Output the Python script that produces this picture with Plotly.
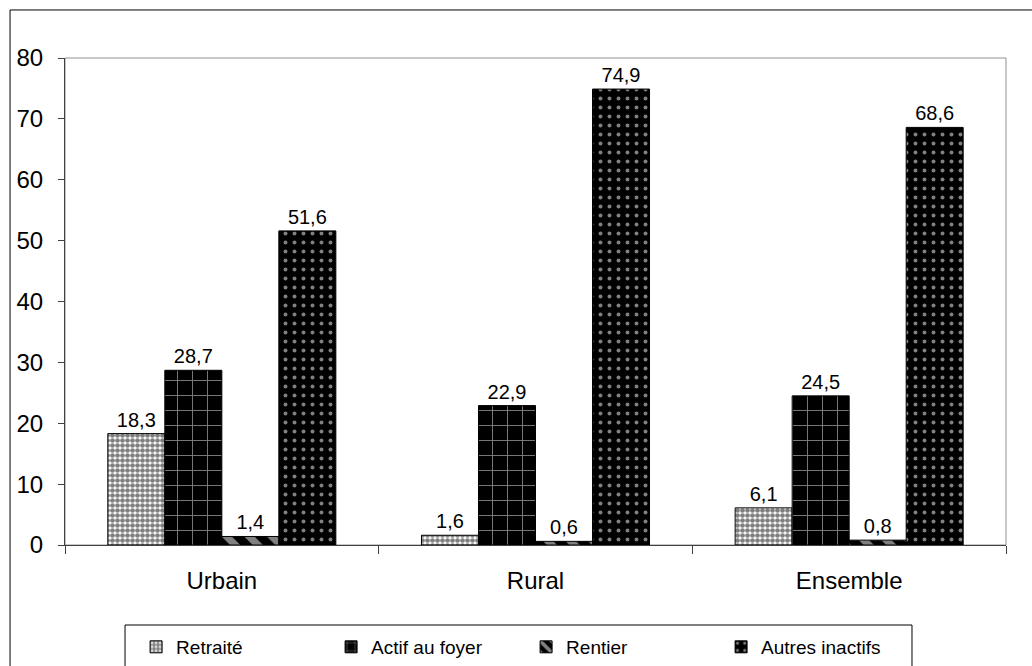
import plotly.graph_objects as go

categories = ['Urbain', 'Rural', 'Ensemble']
series = ['Retraité', 'Actif au foyer', 'Rentier', 'Autres inactifs']
retraite = [18.3, 1.6, 6.1]
actif_foyer = [28.7, 22.9, 24.5]
rentier = [1.4, 0.6, 0.8]
autres_inactifs = [51.6, 74.9, 68.6]
y_ticks = [0, 10, 20, 30, 40, 50, 60, 70, 80]

values = [retraite, actif_foyer, rentier, autres_inactifs]
# motifs noir et blanc (damier, grille, hachures, points)
patterns = [
    dict(shape='.', fgcolor='black', bgcolor='white', size=5, solidity=0.7),
    dict(shape='+', fgcolor='white', bgcolor='black', size=15, solidity=0.12),
    dict(shape='\\', fgcolor='white', bgcolor='black', size=16, solidity=0.45),
    dict(shape='.', fgcolor='white', bgcolor='black', size=9, solidity=0.15),
]

font = 'Liberation Sans, Arial, sans-serif'

fig = go.Figure()
for name, vals, pat in zip(series, values, patterns):
    fig.add_trace(go.Bar(
        name=name, x=categories, y=vals,
        marker=dict(color='black', pattern=pat, line=dict(color='black', width=1)),
        texttemplate='%{y:.1f}', textposition='outside',
        textfont=dict(size=20, color='black', family=font),
        cliponaxis=False,
    ))

fig.update_layout(
    width=1032, height=666,
    margin=dict(l=65, r=26, t=58, b=121, autoexpand=False),
    paper_bgcolor='white', plot_bgcolor='white',
    barmode='group', bargap=0.273, bargroupgap=0,
    separators=', ',
    font=dict(family=font, color='black'),
    showlegend=True,
    legend=dict(orientation='h', x=0.49, xanchor='center', y=-0.2094, yanchor='middle',
                borderwidth=0, font=dict(size=19), bgcolor='rgba(0,0,0,0)',
                entrywidth=150, traceorder='normal'),
)
fig.update_yaxes(range=[0, 80], tickvals=y_ticks, ticks='outside', ticklen=6,
                 tickcolor='#404040', showgrid=False, zeroline=False,
                 showline=True, linecolor='#404040', linewidth=1,
                 tickfont=dict(size=24), ticklabelstandoff=10)
fig.update_xaxes(ticks='outside', tickson='boundaries', ticklen=8, tickcolor='#404040',
                 showgrid=False, showline=True, linecolor='#404040', linewidth=1,
                 tickfont=dict(size=24), ticklabelstandoff=14)

# cadre de la zone de tracé, cadre de la légende et cadre extérieur
fig.add_shape(type='rect', xref='paper', yref='paper', x0=0, x1=1, y0=0, y1=1,
              line=dict(color='#909090', width=1), layer='below')
fig.add_shape(type='rect', xref='paper', yref='paper', x0=0.0638, x1=0.9001, y0=-0.3, y1=-0.1643,
              line=dict(color='black', width=1), layer='below')
fig.add_shape(type='rect', xref='paper', yref='paper', x0=-0.0584, x1=1.05, y0=-0.3, y1=1.0986,
              line=dict(color='black', width=1), layer='below')

fig.write_html('out.html', config={'displayModeBar': False},
               post_script="document.body.style.margin='0';")
